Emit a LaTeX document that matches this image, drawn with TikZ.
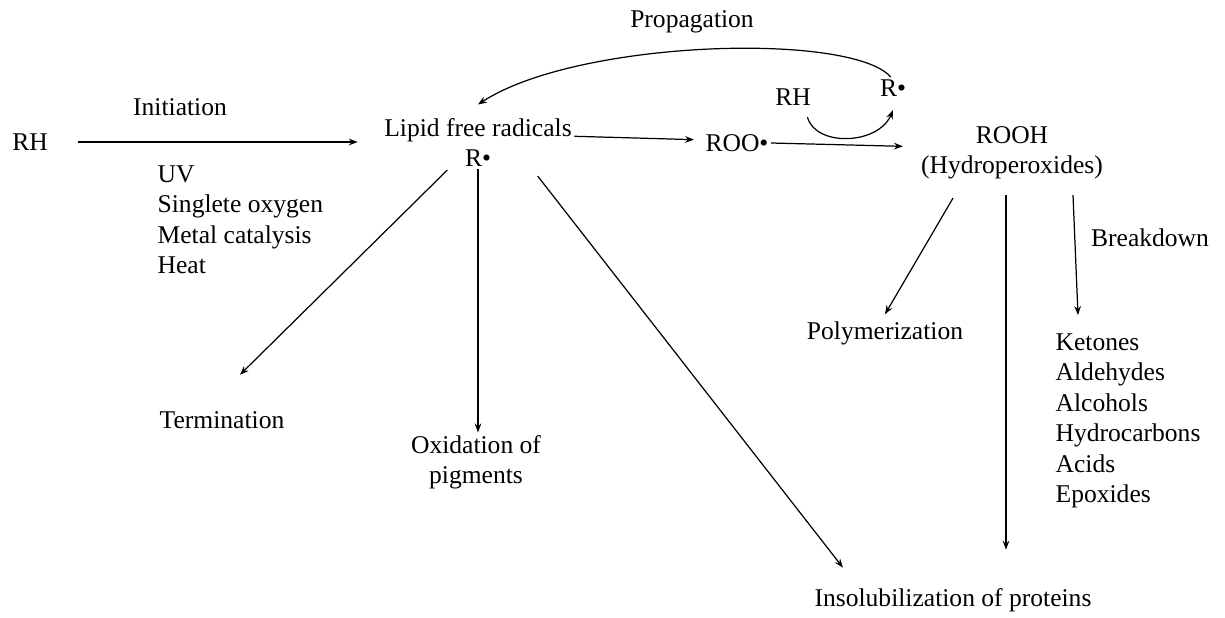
\documentclass[tikz,border=0pt]{standalone}
\usepackage{fontspec}
\setmainfont{Liberation Serif}
\usetikzlibrary{arrows.meta}

\begin{document}
\begin{tikzpicture}[x=0.45pt,y=-0.45pt,
                    font=\fontsize{11.5}{13.7}\selectfont,
                    lbl/.style={inner sep=1pt},
                    flow/.style={-{Stealth[length=4pt,width=3pt]}, line width=0.55pt}]
                        \useasboundingbox (0,0) rectangle (1225,618);
                        % species
                        \node [lbl] (rh) at (30,142) {RH};
                        \node [lbl] (init) at (180,107) {Initiation};
                        \node [lbl, align=left, anchor=north west] (cond) at (155,163) {UV\\Singlete oxygen\\Metal catalysis\\Heat};
                        \node [lbl] (lipid) at (478,130) {Lipid free radicals};
                        \node [lbl] (rdot) at (478,158) {R\textbullet};
                        \node [lbl] (prop) at (692,22) {Propagation};
                        \node [lbl] (rhtwo) at (793,97) {RH};
                        \node [lbl] (rdottwo) at (893,88) {R\textbullet};
                        \node [lbl] (roo) at (737,143) {ROO\textbullet};
                        \node [lbl, align=center] (rooh) at (1012,153) {ROOH\\(Hydroperoxides)};
                        % products
                        \node [lbl] (term) at (222,420) {Termination};
                        \node [lbl, align=center] (oxid) at (476,462) {Oxidation of\\pigments};
                        \node [lbl] (poly) at (885,333) {Polymerization};
                        \node [lbl] (brk) at (1150,238) {Breakdown};
                        \node [lbl, align=left, anchor=north west] (prod) at (1053,331) {Ketones\\Aldehydes\\Alcohols\\Hydrocarbons\\Acids\\Epoxides};
                        \node [lbl] (insol) at (953,600) {Insolubilization of proteins};
                        % reactions
                        \draw [flow] ([xshift=12.6pt]rh.east) -- ([xshift=-10.8pt]rh.east -| lipid.west);
                        \draw [flow] (lipid.base east) -- ([xshift=-4pt,yshift=1.5pt]roo.west);
                        \draw [flow] (roo.east) -- ([xshift=-7pt,yshift=-1.5pt]rooh.west |- roo.east);
                        \draw [flow] ([xshift=-1pt]rdottwo.north) .. controls +(-40,-45) and +(100,-65) .. ([yshift=5pt]lipid.north);
                        \draw [flow] ([shift={(-6,9)}]rhtwo.south east) .. controls +(8,30) and +(-15,35) .. ([yshift=-5pt]rdottwo.south);
                        % from R
                        \draw [flow] ([shift={(-15,1)}]rdot.south west) -- ([shift={(18,-34)}]term.north);
                        \draw [flow] (rdot.south) -- (rdot.south |- oxid.north);
                        \draw [flow] ([shift={(44,7)}]rdot.south east) -- ([shift={(31,-18)}]insol.north west);
                        % from ROOH
                        \draw [flow] ([shift={(-59,16)}]rooh.south) -- ([yshift=2pt]poly.north);
                        \draw [flow] ([shift={(-6,13)}]rooh.south) -- ([shift={(-6,-36)}]rooh.south |- insol.north);
                        \draw [flow] ([shift={(61,13)}]rooh.south) -- ([shift={(25,-16)}]prod.north west);
                    \end{tikzpicture}
\end{document}
